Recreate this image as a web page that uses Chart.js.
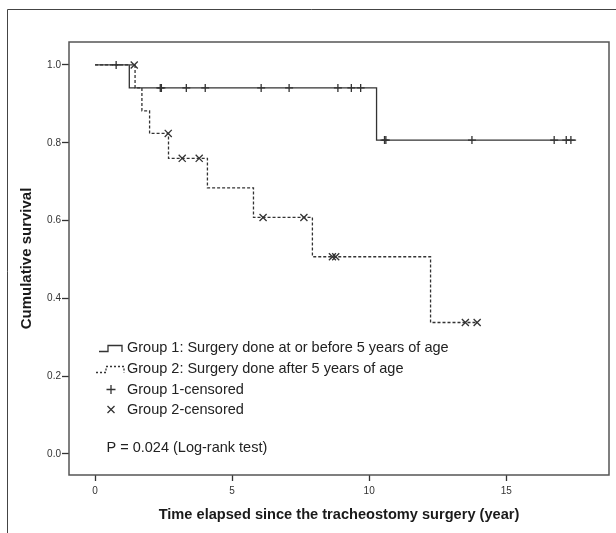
<!DOCTYPE html>
<html>
<head>
<meta charset="utf-8">
<script src="https://cdn.jsdelivr.net/npm/chart.js@4.4.0/dist/chart.umd.min.js"></script>
<style>
  body { margin: 0; background: #fff; }
  canvas { display: block; }
</style>
</head>
<body>
<canvas id="km" width="616" height="533"></canvas>
<script>
// Group 1: surgery done at or before 5 years of age
const g1Times = [0, 1.25, 10.27, 17.55];
const g1Surv = [1.0, 0.941, 0.807, 0.807];
const g1CensTimes = [0.77, 2.38, 2.42, 3.33, 4.02, 6.06, 7.08, 8.86, 9.35, 9.69, 10.56, 10.61, 13.75, 16.75, 17.19, 17.36];
const g1CensSurv = [1.0, 0.941, 0.941, 0.941, 0.941, 0.941, 0.941, 0.941, 0.941, 0.941, 0.807, 0.807, 0.807, 0.807, 0.807, 0.807];

// Group 2: surgery done after 5 years of age
const g2Times = [0, 1.46, 1.71, 1.99, 2.68, 4.10, 5.78, 7.93, 12.24, 13.94];
const g2Surv = [1.0, 0.941, 0.882, 0.824, 0.760, 0.684, 0.608, 0.507, 0.338, 0.338];
const g2CensTimes = [1.43, 2.67, 3.18, 3.80, 6.13, 7.62, 8.66, 8.78, 13.51, 13.94];
const g2CensSurv = [1.0, 0.824, 0.760, 0.760, 0.608, 0.608, 0.507, 0.507, 0.338, 0.338];

const xTickValues = [0, 5, 10, 15];
const yTickValues = [0, 0.2, 0.4, 0.6, 0.8, 1.0];

const legendLabels = [
  "Group 1: Surgery done at or before 5 years of age",
  "Group 2: Surgery done after 5 years of age",
  "Group 1-censored",
  "Group 2-censored",
];
const pValueText = "P = 0.024 (Log-rank test)";

const FONT = "'Liberation Sans', Arial, sans-serif";
const INK = "#333";

const toPoints = (xs, ys) => xs.map((x, i) => ({ x: x, y: ys[i] }));

//frame round the picture, box round the plot, legend inside the plot
const decorations = {
  id: "decorations",
  beforeDraw(chart) {
    const ctx = chart.ctx;
    ctx.save();
    ctx.strokeStyle = "#444";
    ctx.lineWidth = 1;
    ctx.beginPath();
    ctx.moveTo(7.5, chart.height);
    ctx.lineTo(7.5, 9.5);
    ctx.lineTo(chart.width, 9.5);
    ctx.stroke();
    ctx.restore();
  },
  afterDraw(chart) {
    const ctx = chart.ctx;
    const a = chart.chartArea;
    ctx.save();
    ctx.strokeStyle = "#555";
    ctx.lineWidth = 1.5;
    ctx.strokeRect(a.left, a.top, a.right - a.left, a.bottom - a.top);

    // legend symbols
    ctx.strokeStyle = INK;
    ctx.lineWidth = 1.3;
    ctx.beginPath();
    ctx.moveTo(99, 351.5);
    ctx.lineTo(108, 351.5);
    ctx.lineTo(108, 345.5);
    ctx.lineTo(122, 345.5);
    ctx.lineTo(122, 352);
    ctx.stroke();

    ctx.setLineDash([2, 2]);
    ctx.beginPath();
    ctx.moveTo(96, 372.5);
    ctx.lineTo(106, 372.5);
    ctx.lineTo(106, 366.5);
    ctx.lineTo(124, 366.5);
    ctx.lineTo(124, 373);
    ctx.stroke();
    ctx.setLineDash([]);

    ctx.beginPath();
    ctx.moveTo(106.5, 389.5);
    ctx.lineTo(115.5, 389.5);
    ctx.moveTo(111, 385);
    ctx.lineTo(111, 394);
    ctx.moveTo(107.5, 406);
    ctx.lineTo(114.5, 413);
    ctx.moveTo(114.5, 406);
    ctx.lineTo(107.5, 413);
    ctx.stroke();

    ctx.fillStyle = "#222";
    ctx.font = "14.5px " + FONT;
    ctx.textBaseline = "middle";
    ctx.textAlign = "left";
    const rowsY = [348, 369, 389.5, 409.5];
    legendLabels.forEach((t, i) => ctx.fillText(t, 127, rowsY[i]));
    ctx.fillText(pValueText, 106.5, 447.5);
    ctx.restore();
  },
};

new Chart(document.getElementById("km"), {
  type: "scatter",
  plugins: [decorations],
  data: {
    datasets: [
      {
        label: legendLabels[1],
        data: toPoints(g2Times, g2Surv),
        showLine: true,
        stepped: true,
        borderColor: INK,
        borderWidth: 1.3,
        borderDash: [3, 2],
        pointRadius: 0,
        fill: false,
      },
      {
        label: legendLabels[0],
        data: toPoints(g1Times, g1Surv),
        showLine: true,
        stepped: true,
        borderColor: INK,
        borderWidth: 1.3,
        pointRadius: 0,
        fill: false,
      },
      {
        label: legendLabels[2],
        data: toPoints(g1CensTimes, g1CensSurv),
        showLine: false,
        pointStyle: "cross",
        pointRadius: 4,
        borderColor: INK,
        borderWidth: 1.3,
      },
      {
        label: legendLabels[3],
        data: toPoints(g2CensTimes, g2CensSurv),
        showLine: false,
        pointStyle: "crossRot",
        pointRadius: 5,
        borderColor: INK,
        borderWidth: 1.3,
      },
    ],
  },
  options: {
    responsive: false,
    animation: false,
    layout: { padding: { top: 42, right: 7, left: 0, bottom: 0 } },
    plugins: {
      legend: { display: false },
      tooltip: { enabled: false },
    },
    scales: {
      x: {
        type: "linear",
        min: -0.95,
        max: 18.75,
        afterBuildTicks: (s) => { s.ticks = xTickValues.map((v) => ({ value: v })); },
        afterFit: (s) => { s.height = 58; },
        grid: { drawOnChartArea: false, drawTicks: true, tickLength: 6, tickColor: INK, tickWidth: 1.3 },
        border: { display: false },
        ticks: { color: INK, font: { family: FONT, size: 10 }, padding: 4, maxRotation: 0 },
        title: {
          display: true,
          text: "Time elapsed since the tracheostomy surgery (year)",
          color: "#1a1a1a",
          font: { family: FONT, size: 14.6, weight: "bold" },
          padding: { top: 0, bottom: 9 },
        },
      },
      y: {
        type: "linear",
        min: -0.054,
        max: 1.059,
        afterBuildTicks: (s) => { s.ticks = yTickValues.map((v) => ({ value: v })); },
        afterFit: (s) => { s.width = 69; },
        grid: { drawOnChartArea: false, drawTicks: true, tickLength: 7, tickColor: INK, tickWidth: 1.3 },
        border: { display: false },
        ticks: {
          color: INK,
          font: { family: FONT, size: 10 },
          padding: 1,
          callback: (v) => Number(v).toFixed(1),
        },
        title: {
          display: true,
          text: "Cumulative survival",
          color: "#1a1a1a",
          font: { family: FONT, size: 15, weight: "bold" },
          padding: { top: 18, bottom: 0 },
        },
      },
    },
  },
});
</script>
</body>
</html>
